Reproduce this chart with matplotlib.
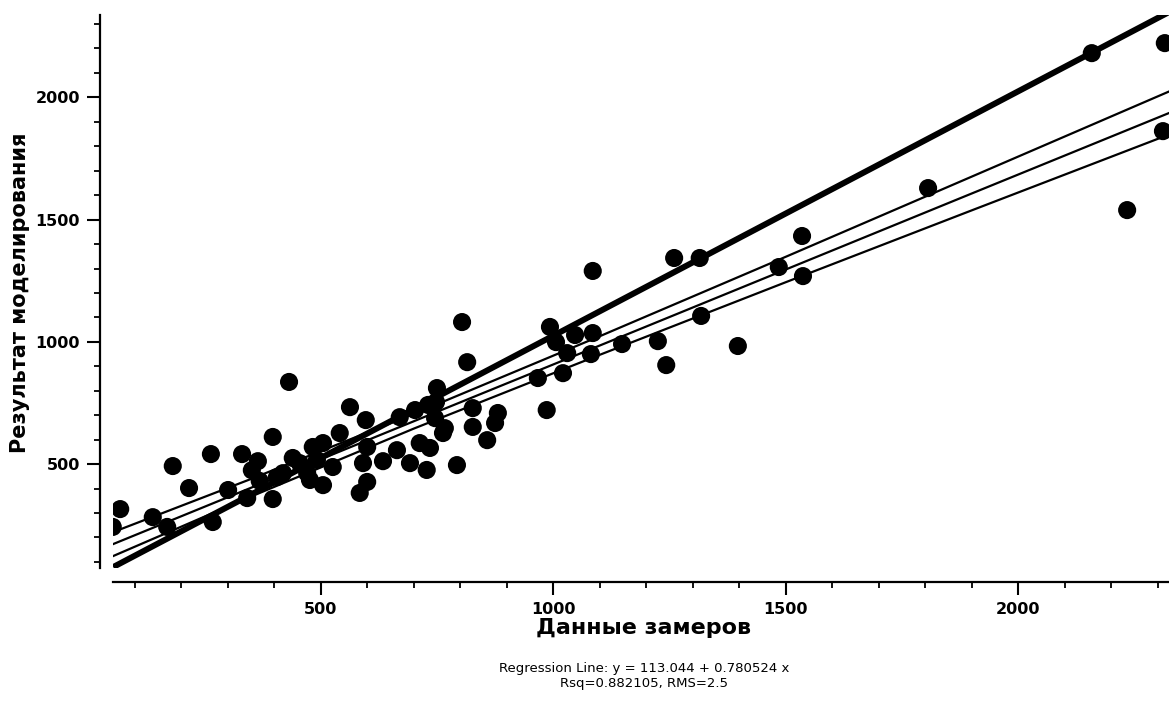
import matplotlib
matplotlib.use('Agg')
import matplotlib.pyplot as plt
from matplotlib.ticker import MultipleLocator

# измеренные значения (ось X) и результат моделирования (ось Y)
meas = [53, 69, 139, 170, 182, 217, 264, 268, 301, 331, 342, 365, 369, 397, 397,
        406, 432, 440, 455, 471, 483, 505, 477, 505, 526, 492, 541, 563, 597, 600,
        591, 634, 664, 670, 692, 713, 735, 728, 600, 584, 750, 703, 731, 763, 793,
        748, 746, 767, 804, 815, 827, 827, 881, 875, 858, 967, 986, 993, 1006, 1021,
        1030, 1047, 1085, 1081, 1085, 1148, 1225, 1243, 1260, 1315, 1318, 1397, 1485,
        1537, 1535, 1806, 2158, 2315, 2311, 2234, 419, 352]
model = [243, 316, 283, 243, 492, 402, 541, 263, 394, 541, 361, 512, 431, 611, 357,
         447, 836, 525, 504, 463, 570, 586, 435, 414, 488, 517, 627, 733, 680, 570,
         504, 512, 557, 692, 504, 586, 566, 476, 427, 382, 811, 721, 742, 627, 496,
         754, 688, 647, 1081, 917, 729, 652, 709, 668, 598, 852, 721, 1061, 999, 872,
         954, 1028, 1036, 950, 1290, 991, 1003, 905, 1343, 1343, 1106, 983, 1306,
         1269, 1433, 1629, 2181, 2222, 1862, 1539, 463, 475]

# линия y = x (жирная)
ideal_x = [54, 2324]
ideal_y = [79, 2349]

# линия регрессии и доверительная полоса
band_x = [54, 350, 700, 1100, 1500, 1900, 2324]
band_mid = [173, 403, 675, 985, 1296, 1607, 1936]
band_up = [222, 439, 705, 1023, 1348, 1676, 2024]
band_lo = [124, 367, 645, 947, 1244, 1538, 1848]

W, H = 1169, 702
fig = plt.figure(figsize=(W / 100, H / 100), dpi=100)
ax = fig.add_axes([113 / W, 1 - 568 / H, 1 - 113 / W, (568 - 15) / H])

ax.plot(ideal_x, ideal_y, color='black', lw=4.3, solid_capstyle='butt')
ax.plot(band_x, band_mid, color='black', lw=1.6)
ax.plot(band_x, band_up, color='black', lw=1.6)
ax.plot(band_x, band_lo, color='black', lw=1.6)
ax.scatter(meas, model, s=170, color='black', edgecolors='none', zorder=3)

ax.set_xlim(53.5, 2324)
ax.set_ylim(75, 2337)

for s in ['top', 'right']:
    ax.spines[s].set_visible(False)
ax.spines['left'].set_position(('outward', 9.4))
ax.spines['bottom'].set_position(('outward', 10))
ax.spines['left'].set_linewidth(1.6)
ax.spines['bottom'].set_linewidth(1.6)

ax.xaxis.set_major_locator(MultipleLocator(500))
ax.xaxis.set_minor_locator(MultipleLocator(100))
ax.yaxis.set_major_locator(MultipleLocator(500))
ax.yaxis.set_minor_locator(MultipleLocator(100))
ax.tick_params(which='major', length=9.5, width=1.5, pad=5)
ax.tick_params(which='minor', length=4.5, width=1.3)
for lab in ax.get_xticklabels() + ax.get_yticklabels():
    lab.set_fontsize(11.5)
    lab.set_fontweight('bold')

fig.text(20 / W, 1 - 293 / H, 'Результат моделирования', rotation=90,
         ha='center', va='center', fontsize=15, fontweight='bold')
fig.text(644 / W, 1 - 628 / H, 'Данные замеров', ha='center', va='center',
         fontsize=16, fontweight='bold')
fig.text(644 / W, 1 - 676 / H,
         'Regression Line: y = 113.044 + 0.780524 x\nRsq=0.882105, RMS=2.5',
         ha='center', va='center', multialignment='center', fontsize=9.5,
         linespacing=1.15)

fig.savefig('out.png', dpi=100)
